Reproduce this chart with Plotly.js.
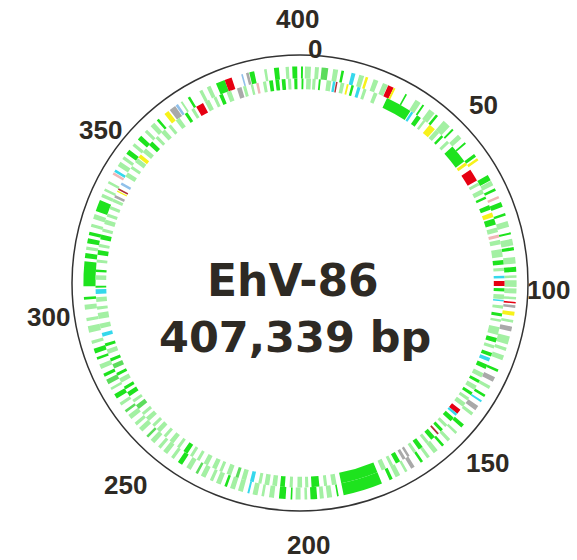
<!DOCTYPE html>
<html><head><meta charset="utf-8">
<script src="https://cdn.plot.ly/plotly-3.0.1.min.js"></script>
<style>html,body{margin:0;padding:0;background:#fff}#chart{width:577px;height:560px}</style>
</head><body><div id="chart"></div>
<script>
const genomeLength = 407339;
const genomeKb = genomeLength / 1000;
const tickKb = [0, 50, 100, 150, 200, 250, 300, 350, 400];
const tickText = ["0", "50", "100", "150", "200", "250", "300", "350", "400"];

// outer track (one strand): start kb, length kb, category
const outerStart = [0.3,1.5,4.5,6.5,10.0,12.5,15.6,18.0,20.0,22.5,25.5,27.2,29.0,33.0,36.5,39.0,41.5,44.0,47.0,50.5,53.0,56.0,60.5,62.0,68.0,70.0,72.5,75.0,77.0,80.5,83.0,86.5,88.5,91.0,94.0,97.0,99.5,101.0,103.5,106.0,107.5,108.5,110.5,113.0,115.0,118.0,121.5,124.0,128.5,131.0,134.0,137.0,139.0,141.0,143.5,148.0,151.0,154.0,156.5,159.0,162.0,164.5,167.5,170.0,172.5,175.0,178.5,192.0,194.0,196.5,198.5,201.5,203.5,206.0,208.0,211.5,214.5,216.5,219.0,221.0,223.5,226.0,228.0,230.5,233.0,235.5,238.0,241.0,244.0,246.5,249.0,251.5,254.0,256.5,259.0,261.5,264.0,266.5,269.0,272.0,274.0,276.5,279.0,282.0,284.0,287.0,290.5,294.0,297.5,300.5,304.5,313.0,315.5,317.5,320.0,322.5,325.0,327.5,332.0,334.0,336.5,339.5,340.5,342.5,345.0,347.0,350.0,352.5,355.5,358.0,360.5,363.5,365.5,367.7,369.5,372.0,376.0,378.5,381.5,384.3,389.5,391.0,392.0,396.5,399.5,403.0,405.0];
const outerLen = [0.6,1.8,1.2,2.0,1.5,0.8,1.2,1.5,0.8,1.5,1.6,1.8,0.6,0.5,1.8,0.6,2.0,0.8,2.5,0.6,1.5,0.6,1.0,0.8,1.8,1.5,0.8,0.8,1.5,0.8,1.8,0.6,2.0,1.0,2.0,1.5,0.8,2.0,1.5,0.8,0.5,0.8,1.2,0.8,1.5,2.5,1.0,1.5,0.8,1.5,1.0,0.8,0.6,1.5,1.0,1.2,0.8,1.0,0.8,1.5,1.0,0.8,1.2,0.8,1.5,1.0,12.0,0.5,1.5,1.2,2.0,0.8,1.5,0.5,2.0,1.5,0.8,1.5,0.6,1.5,1.5,0.8,1.5,1.0,1.5,0.8,1.5,1.5,1.0,1.5,1.0,1.5,0.8,1.5,1.0,1.5,0.8,1.0,1.5,0.8,1.5,1.0,1.5,0.8,1.5,1.0,2.0,1.0,1.5,0.8,7.5,1.5,1.0,1.5,1.0,1.0,1.5,3.5,1.0,0.8,0.8,0.8,0.8,1.5,1.0,1.5,1.0,1.5,1.0,1.5,0.8,1.5,2.0,0.8,0.6,0.8,1.0,1.2,2.8,2.2,0.5,0.8,1.5,0.8,1.5,1.0,1.5];
const outerCat = ["G","L","L","M","L","G","C","L","Y","L","L","R","Y","G","L","G","L","G","L","G","L","G","G","Y","G","L","G","P","G","G","L","G","L","G","L","G","L","L","L","L","R","A","Y","L","A","L","L","L","G","A","L","G","C","A","L","G","L","L","G","L","L","G","A","L","L","G","G","G","L","L","G","L","L","G","G","L","L","L","C","L","L","G","L","L","L","M","L","G","L","L","L","L","M","L","L","L","M","L","G","L","M","G","L","G","G","L","L","L","L","G","G","G","L","G","G","L","L","G","L","L","L","P","C","L","L","G","L","G","L","L","G","Y","A","B","L","G","L","L","G","R","B","A","G","L","G","L","G"];

// inner track (other strand)
const innerStart = [0.5,2.0,4.0,6.0,8.5,10.5,11.5,13.0,15.0,16.5,18.5,20.5,24.0,28.5,37.3,39.5,42.0,44.5,47.0,49.5,52.0,54.5,61.0,63.8,68.5,71.0,73.5,76.5,79.0,81.0,84.0,86.3,88.0,91.0,94.5,97.0,99.5,101.2,103.5,105.5,107.2,109.0,111.5,113.5,116.0,119.5,122.0,124.5,126.2,128.5,131.5,134.0,136.0,138.5,140.5,142.5,145.2,146.8,148.5,151.5,153.5,155.3,157.0,159.5,162.0,164.5,167.0,168.5,170.5,173.0,175.5,178.5,192.0,195.0,197.5,201.0,203.0,206.0,208.5,211.0,213.5,216.0,218.5,221.0,223.5,226.0,229.0,231.0,234.0,237.0,239.5,241.5,244.5,247.0,250.0,252.5,255.0,257.5,260.0,262.5,265.0,267.5,270.0,272.5,275.0,277.5,280.0,282.5,285.0,288.3,291.0,294.0,297.0,299.5,302.0,304.0,306.5,309.0,312.0,314.5,317.0,319.5,322.0,324.5,327.0,329.5,332.0,333.5,335.5,336.2,338.0,341.0,344.0,346.5,348.3,350.5,353.5,356.5,359.0,362.0,365.0,368.5,371.0,372.8,376.0,379.0,381.0,383.5,387.0,389.0,391.5,393.3,395.5,397.5,399.5,401.5,403.5,405.5];
const innerLen = [0.6,1.5,1.0,0.6,1.5,0.8,0.5,1.2,0.6,0.8,1.0,1.0,1.2,8.5,0.8,1.5,0.8,2.2,1.5,0.8,1.0,6.0,1.0,4.0,1.0,1.5,0.8,1.5,1.5,2.0,1.5,1.0,1.5,2.5,1.5,1.0,0.8,1.6,1.0,1.5,0.5,1.0,1.0,0.8,2.5,1.5,1.0,1.2,1.2,1.5,1.5,1.0,1.5,1.0,1.0,1.5,1.6,0.8,1.5,1.0,1.0,0.6,1.5,1.0,1.5,1.0,0.8,1.0,1.5,1.0,1.5,12.0,1.5,1.0,2.5,1.0,1.5,1.0,1.5,1.5,1.5,1.0,1.2,1.5,1.0,1.5,1.0,1.5,1.5,1.0,1.0,1.5,1.0,1.5,1.0,1.5,1.0,1.5,1.0,1.5,1.0,1.5,1.0,1.5,1.0,1.5,1.0,1.5,1.0,1.2,1.5,2.0,1.0,1.5,1.5,0.6,1.5,0.8,1.0,1.5,1.0,1.5,1.0,1.5,1.0,1.0,1.0,0.8,0.4,0.5,0.8,1.5,1.0,1.5,1.2,1.5,1.5,1.0,1.5,1.0,1.5,1.0,1.0,2.5,1.5,1.0,1.2,1.5,1.5,1.0,0.8,0.8,1.0,1.2,1.2,1.2,1.0,1.0];
const innerCat = ["G","L","L","G","L","C","D","L","Y","G","C","L","L","G","C","G","L","Y","L","G","L","G","Y","R","L","L","G","G","Y","G","L","P","L","L","G","L","C","R","G","L","C","L","G","L","L","G","L","G","C","G","L","G","L","G","L","L","R","C","G","L","G","D","G","L","G","L","A","A","G","L","L","G","L","L","G","L","L","L","G","L","L","L","C","L","M","L","L","L","L","L","L","G","L","L","L","L","L","L","L","M","L","G","G","L","G","M","G","L","G","C","L","L","L","L","C","G","L","G","L","G","L","G","L","L","L","L","L","A","Y","D","B","L","L","L","Y","L","G","L","L","L","L","G","L","R","L","L","G","L","A","L","L","P","L","G","G","G","L","G"];

const catColors = {G:"#1ee31e", L:"#a3f0a3", M:"#5cdc5c", R:"#e60012", Y:"#f7f21a", C:"#35d8ec", A:"#a9a9a9", P:"#f0b6b6", D:"#b0343a", B:"#90c0ea"};

function track(starts, lens, cats, base, thick) {
  return {
    type: "barpolar",
    theta: starts.map((s, i) => (s + lens[i] / 2) / genomeKb * 360),
    width: lens.map(l => l / genomeKb * 360),
    r: starts.map(() => thick),
    base: starts.map(() => base),
    marker: {color: cats.map(c => catColors[c]), line: {width: 0}},
    hoverinfo: "skip",
    showlegend: false
  };
}

const data = [
  track(outerStart, outerLen, outerCat, 0.897, 0.053),
  track(innerStart, innerLen, innerCat, 0.85, 0.047)
];

const labelPos = {"0":[315,49],"50":[483,105],"100":[548,290],"150":[487,463],"200":[308,545],"250":[125,485],"300":[48,317],"350":[100,130],"400":[297,19]};
const W = 577, H = 560;
const annotations = tickText.map(t => ({
  text: t, xref: "paper", yref: "paper",
  x: labelPos[t][0] / W, y: 1 - labelPos[t][1] / H,
  xanchor: "center", yanchor: "middle", showarrow: false,
  font: {family: "Liberation Sans, Arial, sans-serif", size: 26, color: "#2e2a24", weight: "bold"}
}));
annotations.push({text: "EhV-86", xref: "paper", yref: "paper", x: 293 / W, y: 1 - 280 / H,
  xanchor: "center", yanchor: "middle", showarrow: false,
  font: {family: "DejaVu Sans, sans-serif", size: 44, color: "#2e2a24", weight: "bold"}});
annotations.push({text: "407,339 bp", xref: "paper", yref: "paper", x: 295 / W, y: 1 - 337 / H,
  xanchor: "center", yanchor: "middle", showarrow: false,
  font: {family: "DejaVu Sans, sans-serif", size: 43, color: "#2e2a24", weight: "bold"}});

const cx = 300, cy = 283, R = 228;
const layout = {
  width: W, height: H,
  margin: {l: 0, r: 0, t: 0, b: 0},
  paper_bgcolor: "#fff",
  showlegend: false,
  polar: {
    domain: {x: [(cx - R) / W, (cx + R) / W], y: [1 - (cy + R) / H, 1 - (cy - R) / H]},
    bgcolor: "#fff",
    bargap: 0,
    radialaxis: {range: [0, 1], visible: false},
    angularaxis: {rotation: 90, direction: "clockwise", showgrid: false, showticklabels: false,
      ticks: "", showline: true, linecolor: "#333", linewidth: 1.5,
      tickvals: tickKb.map(k => k / genomeKb * 360)}
  },
  annotations: annotations
};
Plotly.newPlot("chart", data, layout, {staticPlot: true, displayModeBar: false});
</script>
</body></html>
